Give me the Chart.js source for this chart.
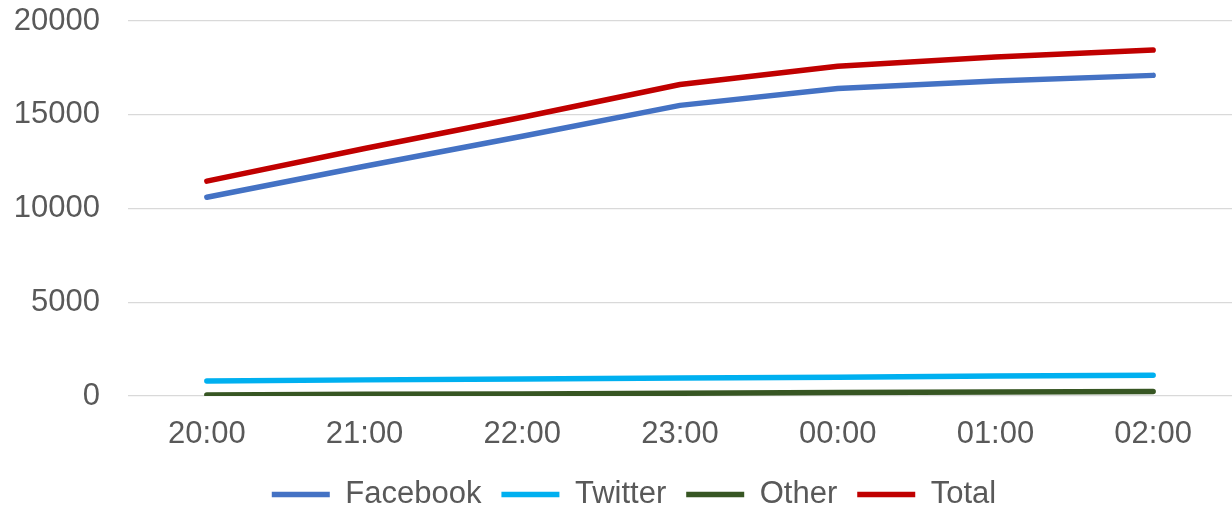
<!DOCTYPE html>
<html>
<head>
<meta charset="utf-8">
<script src="https://cdn.jsdelivr.net/npm/chart.js@4.4.0/dist/chart.umd.min.js"></script>
<style>
  html, body { margin: 0; padding: 0; background: #fff; }
  #wrap { width: 1232px; height: 510px; }
</style>
</head>
<body>
<div id="wrap"><canvas id="chart"></canvas></div>
<script>
// Data
const hours = ["20:00", "21:00", "22:00", "23:00", "00:00", "01:00", "02:00"];
const facebook = [10600, 12250, 13850, 15500, 16400, 16800, 17100];
const twitter  = [800, 860, 910, 960, 1000, 1070, 1110];
const other    = [60, 90, 110, 150, 190, 210, 240];
const total    = [11460, 13200, 14870, 16610, 17590, 18080, 18450];
const yTicks   = [0, 5000, 10000, 15000, 20000];

const textColor = "#595959";
const font = { family: "'Liberation Sans', Arial, sans-serif", size: 31 };

function series(label, data, color){
  return {
    label: label, data: data,
    borderColor: color, backgroundColor: color,
    borderWidth: 5.5, borderCapStyle: "round", borderJoinStyle: "round",
    pointRadius: 0, pointHoverRadius: 0, tension: 0, fill: false
  };
}

// squeeze the legend box and nudge it right/down a bit
const legendFix = {
  id: "legendFix",
  afterInit(chart){
    const lg = chart.legend, fit = lg.fit;
    lg.fit = function(){ fit.call(this); this.height = 54; };
  },
  afterLayout(chart){
    const lg = chart.legend;
    lg.left += 18; lg.right += 18;
    lg.top += 3; lg.bottom += 3;
  }
};

const ctx = document.getElementById("chart").getContext("2d");
new Chart(ctx, {
  type: "line",
  data: {
    labels: hours,
    datasets: [
      series("Facebook", facebook, "#4472C4"),
      series("Twitter", twitter, "#00B0F0"),
      series("Other", other, "#375623"),
      series("Total", total, "#C00000")
    ]
  },
  plugins: [legendFix],
  options: {
    responsive: true, maintainAspectRatio: false, animation: false,
    layout: { padding: { top: 21, right: 0, bottom: 0, left: 0 } },
    plugins: {
      tooltip: { enabled: false },
      legend: {
        position: "bottom",
        labels: {
          usePointStyle: true, pointStyle: "line", pointStyleWidth: 58,
          color: textColor, font: font, padding: 20, boxHeight: 6
        }
      }
    },
    scales: {
      x: {
        offset: true,
        afterFit: function(axis){ axis.height = 60; axis.paddingLeft = 0; axis.paddingRight = 0; },
        grid: { display: false, drawTicks: false },
        border: { display: false },
        ticks: { color: textColor, font: font, padding: 20 }
      },
      y: {
        min: 0, max: 20000,
        afterBuildTicks: function(axis){ axis.ticks = yTicks.map(v => ({ value: v })); },
        afterFit: function(axis){ axis.width = 128; axis.paddingTop = 0; axis.paddingBottom = 0; },
        grid: { color: "#D9D9D9", lineWidth: 1.3, drawTicks: false },
        border: { display: false },
        ticks: { color: textColor, font: font, padding: 28, callback: v => String(v) }
      }
    }
  }
});
</script>
</body>
</html>
